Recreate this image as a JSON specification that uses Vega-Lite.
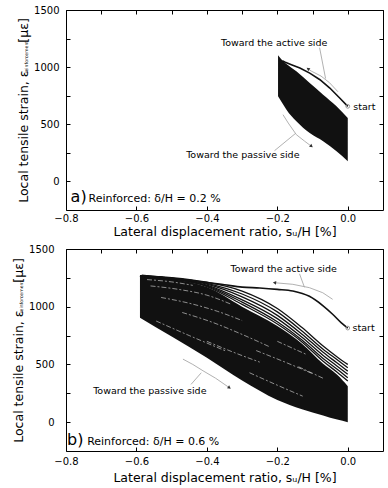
{
"$schema": "https://vega.github.io/schema/vega-lite/v6.json",
"background": "white",
"padding": {"left": 12, "top": 4, "right": 0, "bottom": 0},
"columns": 1,
"align": "none",
"bounds": "full",
"spacing": 4,
"config": {
  "view": {"stroke": "black", "strokeWidth": 1},
  "axis": {"labelFont": "DejaVu Sans", "titleFont": "DejaVu Sans", "labelColor": "black", "titleColor": "black", "tickColor": "black", "domain": false, "grid": false, "labelFontSize": 10, "titleFontSize": 12.5, "titleFontWeight": "normal", "tickSize": -4, "tickWidth": 1, "labelFlush": false, "labelOverlap": false},
  "text": {"font": "DejaVu Sans", "color": "black"}
},
"datasets": {
  "fillA": [{"x":-0.198,"lo":745,"hi":1103},{"x":-0.183,"lo":671,"hi":1050},{"x":-0.174,"lo":627,"hi":1028},{"x":-0.146,"lo":526,"hi":963},{"x":-0.108,"lo":423,"hi":861},{"x":-0.07,"lo":351,"hi":759},{"x":-0.032,"lo":263,"hi":657},{"x":0,"lo":176,"hi":555}],
  "startA": [{"x":0,"y":657},{"x":-0.023,"y":730},{"x":-0.051,"y":817},{"x":-0.079,"y":890},{"x":-0.108,"y":948},{"x":-0.136,"y":992},{"x":-0.16,"y":1021},{"x":-0.179,"y":1045},{"x":-0.186,"y":1056}],
  "greyA": [{"id":"a1","x":-0.113,"y":986},{"id":"a1","x":-0.104,"y":966},{"id":"a1","x":-0.076,"y":922},{"id":"a1","x":-0.052,"y":864},{"id":"a1","x":-0.028,"y":785},{"id":"l1","x":-0.08,"y":1170},{"id":"l1","x":-0.063,"y":900},{"id":"a2","x":-0.184,"y":584},{"id":"a2","x":-0.169,"y":511},{"id":"a2","x":-0.146,"y":409},{"id":"a2","x":-0.122,"y":351},{"id":"a2","x":-0.103,"y":307},{"id":"l2","x":-0.208,"y":269},{"id":"l2","x":-0.148,"y":421}],
  "headA": [{"k":"a","x":-0.113,"y":986},{"k":"p","x":-0.103,"y":307}],
  "markA": [{"x":0,"y":657}],
  "textA": [{"x":-0.209,"y":1211,"t":"Toward the active side"},{"x":0.047,"y":651,"t":"start"},{"x":-0.298,"y":230,"t":"Toward the passive side"}],
  "labA": [{"x":-0.787,"y":-176,"t":"a)","k":"big"},{"x":-0.736,"y":-176,"t":"Reinforced: δ/H = 0.2 %","k":"small"}],
  "subA": [{"x":-0.912,"y":1088,"t":"reinforcement"}],
  "fillB": [{"x":-0.59,"lo":905,"hi":1266},{"x":-0.5,"lo":741,"hi":1240},{"x":-0.4,"lo":558,"hi":1170},{"x":-0.3,"lo":360,"hi":1000},{"x":-0.2,"lo":192,"hi":833},{"x":-0.13,"lo":112,"hi":680},{"x":-0.07,"lo":58,"hi":505},{"x":-0.03,"lo":22,"hi":410},{"x":0,"lo":0,"hi":312}],
  "fanB": [
    {"id":"F1","x":-0.59,"y":1270},{"id":"F1","x":-0.5,"y":1252},{"id":"F1","x":-0.4,"y":1212},{"id":"F1","x":-0.3,"y":1136},{"id":"F1","x":-0.2,"y":985},{"id":"F1","x":-0.13,"y":820},{"id":"F1","x":-0.07,"y":660},{"id":"F1","x":-0.03,"y":565},{"id":"F1","x":0,"y":500},
    {"id":"F2","x":-0.59,"y":1268},{"id":"F2","x":-0.5,"y":1248},{"id":"F2","x":-0.4,"y":1203},{"id":"F2","x":-0.3,"y":1110},{"id":"F2","x":-0.2,"y":955},{"id":"F2","x":-0.13,"y":790},{"id":"F2","x":-0.07,"y":632},{"id":"F2","x":-0.03,"y":540},{"id":"F2","x":0,"y":471},
    {"id":"F3","x":-0.59,"y":1267},{"id":"F3","x":-0.5,"y":1245},{"id":"F3","x":-0.4,"y":1195},{"id":"F3","x":-0.3,"y":1085},{"id":"F3","x":-0.2,"y":925},{"id":"F3","x":-0.13,"y":762},{"id":"F3","x":-0.07,"y":605},{"id":"F3","x":-0.03,"y":512},{"id":"F3","x":0,"y":442},
    {"id":"F4","x":-0.59,"y":1266},{"id":"F4","x":-0.5,"y":1243},{"id":"F4","x":-0.4,"y":1188},{"id":"F4","x":-0.3,"y":1060},{"id":"F4","x":-0.2,"y":897},{"id":"F4","x":-0.13,"y":735},{"id":"F4","x":-0.07,"y":578},{"id":"F4","x":-0.03,"y":485},{"id":"F4","x":0,"y":414},
    {"id":"F5","x":-0.59,"y":1266},{"id":"F5","x":-0.5,"y":1242},{"id":"F5","x":-0.4,"y":1181},{"id":"F5","x":-0.3,"y":1040},{"id":"F5","x":-0.2,"y":870},{"id":"F5","x":-0.13,"y":712},{"id":"F5","x":-0.07,"y":552},{"id":"F5","x":-0.03,"y":458},{"id":"F5","x":0,"y":384},
    {"id":"F6","x":-0.59,"y":1266},{"id":"F6","x":-0.5,"y":1241},{"id":"F6","x":-0.4,"y":1175},{"id":"F6","x":-0.3,"y":1020},{"id":"F6","x":-0.2,"y":850},{"id":"F6","x":-0.13,"y":695},{"id":"F6","x":-0.07,"y":528},{"id":"F6","x":-0.03,"y":432},{"id":"F6","x":0,"y":356}
  ],
  "streakB": [
    {"id":"s1","x":-0.57,"y":1235},{"id":"s1","x":-0.5,"y":1215},{"id":"s1","x":-0.44,"y":1185},
    {"id":"s2","x":-0.56,"y":1180},{"id":"s2","x":-0.48,"y":1150},{"id":"s2","x":-0.4,"y":1100},{"id":"s2","x":-0.33,"y":1020},
    {"id":"s3","x":-0.53,"y":1080},{"id":"s3","x":-0.45,"y":1030},{"id":"s3","x":-0.37,"y":960},{"id":"s3","x":-0.3,"y":880},
    {"id":"s4","x":-0.544,"y":876},{"id":"s4","x":-0.45,"y":750},{"id":"s4","x":-0.346,"y":616},
    {"id":"s5","x":-0.47,"y":950},{"id":"s5","x":-0.38,"y":860},{"id":"s5","x":-0.3,"y":760},{"id":"s5","x":-0.22,"y":650},
    {"id":"s6","x":-0.279,"y":428},{"id":"s6","x":-0.2,"y":320},{"id":"s6","x":-0.128,"y":225},
    {"id":"s7","x":-0.26,"y":620},{"id":"s7","x":-0.17,"y":510},{"id":"s7","x":-0.1,"y":420},
    {"id":"s8","x":-0.14,"y":480},{"id":"s8","x":-0.07,"y":380},
    {"id":"s9","x":-0.4,"y":700},{"id":"s9","x":-0.32,"y":600},{"id":"s9","x":-0.25,"y":520},
    {"id":"s10","x":-0.2,"y":700},{"id":"s10","x":-0.12,"y":590}
  ],
  "startB": [{"x":-0.585,"y":1272},{"x":-0.535,"y":1258},{"x":-0.44,"y":1225},{"x":-0.35,"y":1190},{"x":-0.3,"y":1170},{"x":-0.25,"y":1162},{"x":-0.2,"y":1150},{"x":-0.156,"y":1136},{"x":-0.109,"y":1090},{"x":-0.071,"y":1010},{"x":-0.043,"y":935},{"x":-0.019,"y":862},{"x":0,"y":815}],
  "greyB": [{"id":"a1","x":-0.208,"y":1208},{"id":"a1","x":-0.156,"y":1194},{"id":"a1","x":-0.109,"y":1165},{"id":"a1","x":-0.071,"y":1121},{"id":"a1","x":-0.043,"y":1064},{"id":"l1","x":-0.137,"y":1285},{"id":"l1","x":-0.123,"y":1168},{"id":"a2","x":-0.468,"y":546},{"id":"a2","x":-0.44,"y":500},{"id":"a2","x":-0.411,"y":445},{"id":"a2","x":-0.375,"y":380},{"id":"a2","x":-0.336,"y":298},{"id":"l2","x":-0.445,"y":327},{"id":"l2","x":-0.416,"y":428}],
  "headB": [{"k":"a","x":-0.208,"y":1208},{"k":"p","x":-0.336,"y":298}],
  "markB": [{"x":0,"y":815}],
  "textB": [{"x":-0.182,"y":1324,"t":"Toward the active side"},{"x":0.045,"y":812,"t":"start"},{"x":-0.562,"y":269,"t":"Toward the passive side"}],
  "labB": [{"x":-0.797,"y":-195,"t":"b)","k":"big"},{"x":-0.74,"y":-195,"t":"Reinforced: δ/H = 0.6 %","k":"small"}],
  "subB": [{"x":-0.926,"y":1084,"t":"reinforcement"}],
  "one": [{"x":0,"y":0}]
},
"concat": [
{
  "width": 317, "height": 200,
  "layer": [
    {"layer": [
      {"data": {"name": "fillA"}, "mark": {"type": "area", "color": "#111", "interpolate": "monotone"},
       "encoding": {
         "x": {"field": "x", "type": "quantitative", "scale": {"domain": [-0.8, 0.1], "nice": false, "zero": false},
               "axis": {"values": [-0.8,-0.7,-0.6,-0.5,-0.4,-0.3,-0.2,-0.1,0,0.1], "labelExpr": "round(datum.value*10)%2==0 ? format(datum.value,'.1f') : ''", "labelPadding": 7.5, "title": "Lateral displacement ratio, sᵤ/H [%]", "titlePadding": 2}},
         "y": {"field": "lo", "type": "quantitative", "scale": {"domain": [-250, 1500], "nice": false, "zero": false},
               "axis": {"values": [0,500,1000,1500], "format": "d", "labelPadding": 11, "title": "Local tensile strain, ε\u00a0\u00a0\u00a0\u00a0\u00a0\u00a0\u00a0[με]", "titlePadding": 3}},
         "y2": {"field": "hi"}}},
      {"data": {"name": "startA"}, "mark": {"type": "line", "color": "#111", "strokeWidth": 1.6},
       "encoding": {"x": {"field": "x", "type": "quantitative", "scale": {"domain": [-0.8, 0.1], "nice": false, "zero": false}}, "y": {"field": "y", "type": "quantitative", "scale": {"domain": [-250, 1500], "nice": false, "zero": false}}}},
      {"data": {"name": "greyA"}, "mark": {"type": "line", "color": "#a8a8a8", "strokeWidth": 0.9},
       "encoding": {"x": {"field": "x", "type": "quantitative", "scale": {"domain": [-0.8, 0.1], "nice": false, "zero": false}}, "y": {"field": "y", "type": "quantitative", "scale": {"domain": [-250, 1500], "nice": false, "zero": false}}, "detail": {"field": "id"}}},
      {"data": {"name": "headA"}, "transform": [{"filter": "datum.k == 'a'"}], "mark": {"type": "point", "shape": "triangle-up", "filled": true, "color": "#333", "size": 14, "angle": 305, "opacity": 1},
       "encoding": {"x": {"field": "x", "type": "quantitative", "scale": {"domain": [-0.8, 0.1], "nice": false, "zero": false}}, "y": {"field": "y", "type": "quantitative", "scale": {"domain": [-250, 1500], "nice": false, "zero": false}}}},
      {"data": {"name": "headA"}, "transform": [{"filter": "datum.k == 'p'"}], "mark": {"type": "point", "shape": "triangle-up", "filled": true, "color": "#333", "size": 14, "angle": 127, "opacity": 1},
       "encoding": {"x": {"field": "x", "type": "quantitative", "scale": {"domain": [-0.8, 0.1], "nice": false, "zero": false}}, "y": {"field": "y", "type": "quantitative", "scale": {"domain": [-250, 1500], "nice": false, "zero": false}}}},
      {"mark": {"type": "rule", "strokeDash": [1.5, 2], "strokeWidth": 1.2, "color": "black"},
       "encoding": {"x": {"datum": 0, "type": "quantitative", "scale": {"domain": [-0.8, 0.1], "nice": false, "zero": false}}}},
      {"mark": {"type": "rule", "strokeDash": [1.5, 2], "strokeWidth": 1.2, "color": "black"},
       "encoding": {"y": {"datum": 0, "type": "quantitative", "scale": {"domain": [-250, 1500], "nice": false, "zero": false}}}},
      {"data": {"name": "markA"}, "mark": {"type": "point", "shape": "circle", "filled": false, "color": "#999", "size": 14, "strokeWidth": 1, "opacity": 1},
       "encoding": {"x": {"field": "x", "type": "quantitative", "scale": {"domain": [-0.8, 0.1], "nice": false, "zero": false}}, "y": {"field": "y", "type": "quantitative", "scale": {"domain": [-250, 1500], "nice": false, "zero": false}}}},
      {"data": {"name": "textA"}, "mark": {"type": "text", "fontSize": 9.5, "align": "center", "baseline": "middle"},
       "encoding": {"x": {"field": "x", "type": "quantitative", "scale": {"domain": [-0.8, 0.1], "nice": false, "zero": false}}, "y": {"field": "y", "type": "quantitative", "scale": {"domain": [-250, 1500], "nice": false, "zero": false}}, "text": {"field": "t"}}},
      {"data": {"name": "labA"}, "transform": [{"filter": "datum.k == 'big'"}], "mark": {"type": "text", "fontSize": 16, "align": "left", "baseline": "alphabetic"},
       "encoding": {"x": {"field": "x", "type": "quantitative", "scale": {"domain": [-0.8, 0.1], "nice": false, "zero": false}}, "y": {"field": "y", "type": "quantitative", "scale": {"domain": [-250, 1500], "nice": false, "zero": false}}, "text": {"field": "t"}}},
      {"data": {"name": "labA"}, "transform": [{"filter": "datum.k == 'small'"}], "mark": {"type": "text", "fontSize": 11, "align": "left", "baseline": "alphabetic"},
       "encoding": {"x": {"field": "x", "type": "quantitative", "scale": {"domain": [-0.8, 0.1], "nice": false, "zero": false}}, "y": {"field": "y", "type": "quantitative", "scale": {"domain": [-250, 1500], "nice": false, "zero": false}}, "text": {"field": "t"}}},
      {"data": {"name": "subA"}, "mark": {"type": "text", "fontSize": 4.6, "align": "center", "baseline": "middle", "angle": 270},
       "encoding": {"x": {"field": "x", "type": "quantitative", "scale": {"domain": [-0.8, 0.1], "nice": false, "zero": false}}, "y": {"field": "y", "type": "quantitative", "scale": {"domain": [-250, 1500], "nice": false, "zero": false}}, "text": {"field": "t"}}}
    ]},
    {"data": {"name": "one"}, "mark": {"type": "point", "opacity": 0},
     "encoding": {
       "x": {"field": "x", "type": "quantitative", "scale": {"domain": [-0.8, 0.1], "nice": false, "zero": false}, "axis": {"orient": "top", "values": [-0.8,-0.7,-0.6,-0.5,-0.4,-0.3,-0.2,-0.1,0,0.1], "labels": false, "title": null}},
       "y": {"field": "y", "type": "quantitative", "scale": {"domain": [-250, 1500], "nice": false, "zero": false}, "axis": {"orient": "right", "values": [0,250,500,750,1000,1250,1500], "labels": false, "title": null}}}},
    {"data": {"name": "one"}, "mark": {"type": "point", "opacity": 0},
     "encoding": {
       "x": {"field": "x", "type": "quantitative", "scale": {"domain": [-0.8, 0.1], "nice": false, "zero": false}, "axis": null},
       "y": {"field": "y", "type": "quantitative", "scale": {"domain": [-250, 1500], "nice": false, "zero": false}, "axis": {"orient": "left", "values": [250,750,1250], "labels": false, "title": null}}}}
  ],
  "resolve": {"axis": {"x": "independent", "y": "independent"}}
},
{
  "width": 317, "height": 202,
  "layer": [
    {"layer": [
      {"data": {"name": "fillB"}, "mark": {"type": "area", "color": "#111", "interpolate": "monotone"},
       "encoding": {
         "x": {"field": "x", "type": "quantitative", "scale": {"domain": [-0.8, 0.1], "nice": false, "zero": false},
               "axis": {"values": [-0.8,-0.7,-0.6,-0.5,-0.4,-0.3,-0.2,-0.1,0,0.1], "labelExpr": "round(datum.value*10)%2==0 ? format(datum.value,'.1f') : ''", "labelPadding": 9.5, "title": "Lateral displacement ratio, sᵤ/H [%]", "titlePadding": 5}},
         "y": {"field": "lo", "type": "quantitative", "scale": {"domain": [-250, 1500], "nice": false, "zero": false},
               "axis": {"values": [0,500,1000,1500], "format": "d", "labelPadding": 16, "title": "Local tensile strain, ε\u00a0\u00a0\u00a0\u00a0\u00a0\u00a0\u00a0[με]", "titlePadding": 3}},
         "y2": {"field": "hi"}}},
      {"data": {"name": "fanB"}, "mark": {"type": "line", "color": "#111", "strokeWidth": 1.3, "interpolate": "monotone"},
       "encoding": {"x": {"field": "x", "type": "quantitative", "scale": {"domain": [-0.8, 0.1], "nice": false, "zero": false}}, "y": {"field": "y", "type": "quantitative", "scale": {"domain": [-250, 1500], "nice": false, "zero": false}}, "detail": {"field": "id"}}},
      {"data": {"name": "streakB"}, "mark": {"type": "line", "color": "white", "strokeWidth": 0.7, "strokeDash": [5, 2, 2, 2], "opacity": 0.75, "interpolate": "monotone"},
       "encoding": {"x": {"field": "x", "type": "quantitative", "scale": {"domain": [-0.8, 0.1], "nice": false, "zero": false}}, "y": {"field": "y", "type": "quantitative", "scale": {"domain": [-250, 1500], "nice": false, "zero": false}}, "detail": {"field": "id"}}},
      {"data": {"name": "startB"}, "mark": {"type": "line", "color": "#111", "strokeWidth": 1.6, "interpolate": "monotone"},
       "encoding": {"x": {"field": "x", "type": "quantitative", "scale": {"domain": [-0.8, 0.1], "nice": false, "zero": false}}, "y": {"field": "y", "type": "quantitative", "scale": {"domain": [-250, 1500], "nice": false, "zero": false}}}},
      {"data": {"name": "greyB"}, "mark": {"type": "line", "color": "#a8a8a8", "strokeWidth": 0.9},
       "encoding": {"x": {"field": "x", "type": "quantitative", "scale": {"domain": [-0.8, 0.1], "nice": false, "zero": false}}, "y": {"field": "y", "type": "quantitative", "scale": {"domain": [-250, 1500], "nice": false, "zero": false}}, "detail": {"field": "id"}}},
      {"data": {"name": "headB"}, "transform": [{"filter": "datum.k == 'a'"}], "mark": {"type": "point", "shape": "triangle-up", "filled": true, "color": "#333", "size": 14, "angle": 275, "opacity": 1},
       "encoding": {"x": {"field": "x", "type": "quantitative", "scale": {"domain": [-0.8, 0.1], "nice": false, "zero": false}}, "y": {"field": "y", "type": "quantitative", "scale": {"domain": [-250, 1500], "nice": false, "zero": false}}}},
      {"data": {"name": "headB"}, "transform": [{"filter": "datum.k == 'p'"}], "mark": {"type": "point", "shape": "triangle-up", "filled": true, "color": "#333", "size": 14, "angle": 125, "opacity": 1},
       "encoding": {"x": {"field": "x", "type": "quantitative", "scale": {"domain": [-0.8, 0.1], "nice": false, "zero": false}}, "y": {"field": "y", "type": "quantitative", "scale": {"domain": [-250, 1500], "nice": false, "zero": false}}}},
      {"mark": {"type": "rule", "strokeDash": [1.5, 2], "strokeWidth": 1.2, "color": "black"},
       "encoding": {"x": {"datum": 0, "type": "quantitative", "scale": {"domain": [-0.8, 0.1], "nice": false, "zero": false}}}},
      {"mark": {"type": "rule", "strokeDash": [1.5, 2], "strokeWidth": 1.2, "color": "black"},
       "encoding": {"y": {"datum": 0, "type": "quantitative", "scale": {"domain": [-250, 1500], "nice": false, "zero": false}}}},
      {"data": {"name": "markB"}, "mark": {"type": "point", "shape": "circle", "filled": false, "color": "#999", "size": 14, "strokeWidth": 1, "opacity": 1},
       "encoding": {"x": {"field": "x", "type": "quantitative", "scale": {"domain": [-0.8, 0.1], "nice": false, "zero": false}}, "y": {"field": "y", "type": "quantitative", "scale": {"domain": [-250, 1500], "nice": false, "zero": false}}}},
      {"data": {"name": "textB"}, "mark": {"type": "text", "fontSize": 9.5, "align": "center", "baseline": "middle"},
       "encoding": {"x": {"field": "x", "type": "quantitative", "scale": {"domain": [-0.8, 0.1], "nice": false, "zero": false}}, "y": {"field": "y", "type": "quantitative", "scale": {"domain": [-250, 1500], "nice": false, "zero": false}}, "text": {"field": "t"}}},
      {"data": {"name": "labB"}, "transform": [{"filter": "datum.k == 'big'"}], "mark": {"type": "text", "fontSize": 16, "align": "left", "baseline": "alphabetic"},
       "encoding": {"x": {"field": "x", "type": "quantitative", "scale": {"domain": [-0.8, 0.1], "nice": false, "zero": false}}, "y": {"field": "y", "type": "quantitative", "scale": {"domain": [-250, 1500], "nice": false, "zero": false}}, "text": {"field": "t"}}},
      {"data": {"name": "labB"}, "transform": [{"filter": "datum.k == 'small'"}], "mark": {"type": "text", "fontSize": 11, "align": "left", "baseline": "alphabetic"},
       "encoding": {"x": {"field": "x", "type": "quantitative", "scale": {"domain": [-0.8, 0.1], "nice": false, "zero": false}}, "y": {"field": "y", "type": "quantitative", "scale": {"domain": [-250, 1500], "nice": false, "zero": false}}, "text": {"field": "t"}}},
      {"data": {"name": "subB"}, "mark": {"type": "text", "fontSize": 4.6, "align": "center", "baseline": "middle", "angle": 270},
       "encoding": {"x": {"field": "x", "type": "quantitative", "scale": {"domain": [-0.8, 0.1], "nice": false, "zero": false}}, "y": {"field": "y", "type": "quantitative", "scale": {"domain": [-250, 1500], "nice": false, "zero": false}}, "text": {"field": "t"}}}
    ]},
    {"data": {"name": "one"}, "mark": {"type": "point", "opacity": 0},
     "encoding": {
       "x": {"field": "x", "type": "quantitative", "scale": {"domain": [-0.8, 0.1], "nice": false, "zero": false}, "axis": {"orient": "top", "values": [-0.8,-0.7,-0.6,-0.5,-0.4,-0.3,-0.2,-0.1,0,0.1], "labels": false, "title": null}},
       "y": {"field": "y", "type": "quantitative", "scale": {"domain": [-250, 1500], "nice": false, "zero": false}, "axis": {"orient": "right", "values": [0,250,500,750,1000,1250,1500], "labels": false, "title": null}}}},
    {"data": {"name": "one"}, "mark": {"type": "point", "opacity": 0},
     "encoding": {
       "x": {"field": "x", "type": "quantitative", "scale": {"domain": [-0.8, 0.1], "nice": false, "zero": false}, "axis": null},
       "y": {"field": "y", "type": "quantitative", "scale": {"domain": [-250, 1500], "nice": false, "zero": false}, "axis": {"orient": "left", "values": [250,750,1250], "labels": false, "title": null}}}}
  ],
  "resolve": {"axis": {"x": "independent", "y": "independent"}}
}
]
}
